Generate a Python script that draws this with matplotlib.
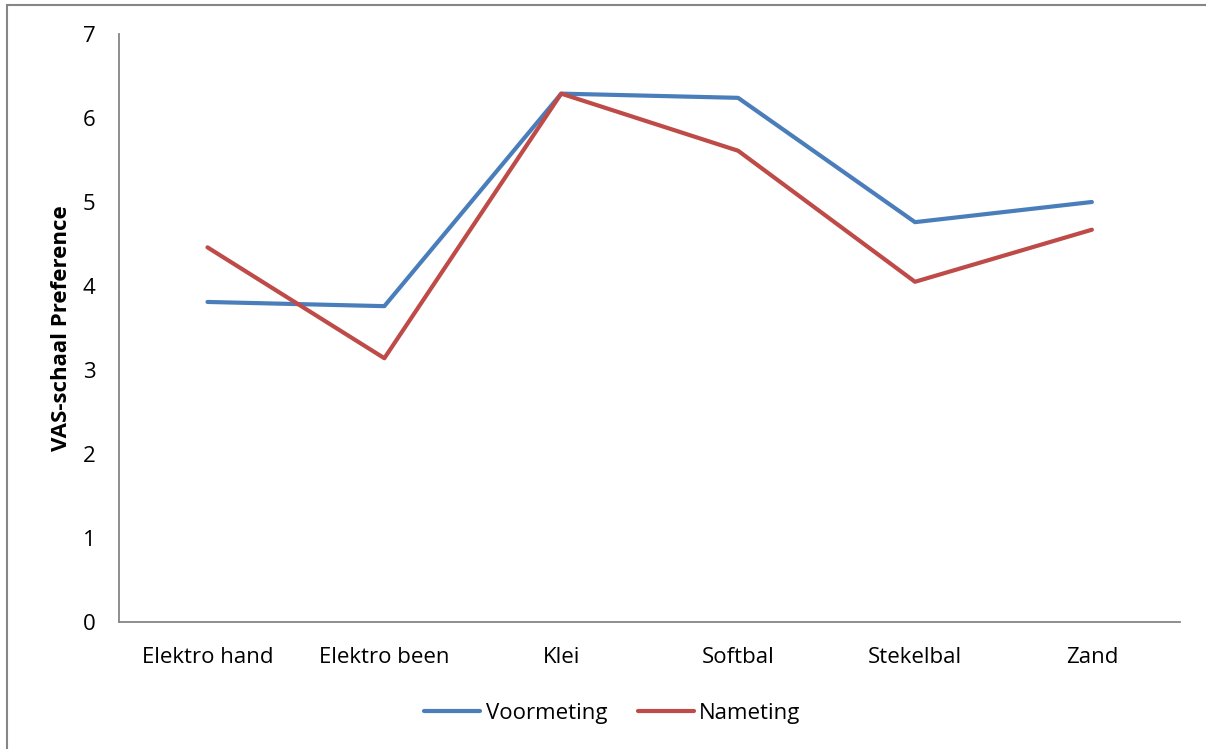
import matplotlib.pyplot as plt
from matplotlib.patches import Rectangle

categories = ['Elektro hand', 'Elektro been', 'Klei', 'Softbal', 'Stekelbal', 'Zand']
voormeting = [3.81, 3.76, 6.29, 6.24, 4.76, 5.00]
nameting = [4.46, 3.14, 6.29, 5.61, 4.05, 4.67]
yticks = [0, 1, 2, 3, 4, 5, 6, 7]

plt.rcParams['font.family'] = ['Open Sans', 'DejaVu Sans']

fig = plt.figure(figsize=(12.06, 7.49), dpi=100)
ax = fig.add_axes([0.0987, 0.1696, 0.880, 0.785])

x = range(len(categories))
ax.plot(x, voormeting, color='#4A7EBB', lw=3, label='Voormeting', solid_capstyle='round')
ax.plot(x, nameting, color='#BE4B48', lw=3, label='Nameting', solid_capstyle='round')

ax.set_xlim(-0.5, len(categories) - 0.5)
ax.set_ylim(0, 7)
ax.set_yticks(yticks)
ax.set_xticks(list(x))
ax.set_xticklabels(categories)
ax.tick_params(axis='both', length=0, labelsize=16, colors='black')
ax.tick_params(axis='x', pad=18)
ax.tick_params(axis='y', pad=17)
for s in ['top', 'right']:
    ax.spines[s].set_visible(False)
for s in ['left', 'bottom']:
    ax.spines[s].set_color('#868686')
    ax.spines[s].set_linewidth(1.3)

ax.set_ylabel('VAS-schaal Preference', fontsize=16, fontweight='bold', labelpad=8)

ax.legend(loc='center', bbox_to_anchor=(0.465, -0.155), ncol=2, frameon=False,
          fontsize=16, handlelength=2.5, handletextpad=0.25, columnspacing=1.4)

# outer chart border
fig.patches.append(Rectangle((7 / 1206, -0.01), 1.05, 1 - 5 / 749 + 0.01, transform=fig.transFigure,
                             fill=False, edgecolor='#868686', lw=1.5))

fig.savefig('out.png', dpi=100)
